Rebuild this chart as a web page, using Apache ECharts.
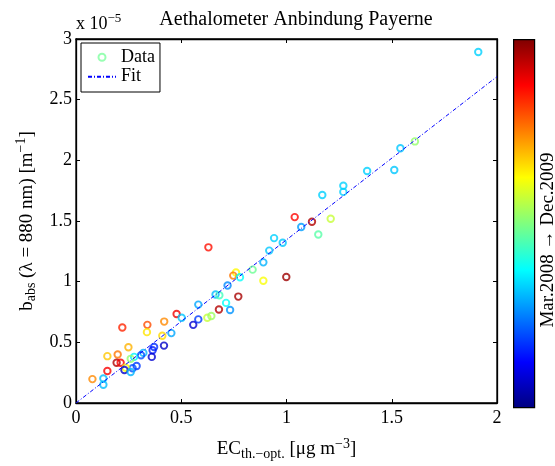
<!DOCTYPE html>
<html>
<head>
<meta charset="utf-8">
<script src="https://cdn.jsdelivr.net/npm/echarts@6/dist/echarts.min.js"></script>
<style>html,body{margin:0;padding:0;background:#fff;}#c{width:555px;height:466px;}</style>
</head>
<body>
<div id="c"></div>
<script>
// EC thermal-optical [ug m^-3]
const ecX = [1.911,1.610,1.541,1.383,1.512,1.270,1.270,1.170,1.039,1.121,1.210,1.070,1.151,0.629,0.941,0.982,0.918,0.890,0.839,0.890,0.999,0.760,0.747,0.779,0.720,0.663,0.681,0.771,0.713,0.679,0.732,0.581,0.478,0.502,0.624,0.643,0.581,0.557,0.220,0.339,0.337,0.419,0.453,0.410,0.418,0.371,0.364,0.360,0.320,0.309,0.249,0.198,0.149,0.276,0.260,0.193,0.212,0.288,0.269,0.236,0.230,0.260,0.149,0.078,0.130,0.130];
// b_abs (880 nm) in units of 1e-5 m^-1
const bAbs = [2.893,2.156,2.100,1.912,1.920,1.790,1.740,1.714,1.532,1.494,1.519,1.451,1.389,1.283,1.359,1.321,1.256,1.159,1.099,1.007,1.039,1.075,1.050,1.037,0.969,0.894,0.888,0.877,0.825,0.771,0.766,0.811,0.733,0.703,0.703,0.717,0.689,0.644,0.622,0.644,0.584,0.671,0.576,0.554,0.473,0.462,0.435,0.380,0.413,0.394,0.459,0.400,0.386,0.380,0.364,0.332,0.332,0.305,0.286,0.291,0.272,0.256,0.264,0.197,0.202,0.150];
// relative time (0 = Mar.2008, 1 = Dec.2009)
const timeVal = [0.33,0.52,0.32,0.33,0.32,0.33,0.33,0.33,0.87,0.95,0.57,0.28,0.46,0.86,0.33,0.32,0.32,0.30,0.48,0.62,0.97,0.63,0.76,0.38,0.26,0.31,0.44,0.96,0.38,0.95,0.27,0.29,0.89,0.32,0.57,0.53,0.18,0.08,0.84,0.80,0.65,0.74,0.29,0.66,0.07,0.17,0.15,0.08,0.30,0.20,0.70,0.76,0.68,0.36,0.52,0.95,0.88,0.18,0.20,0.62,0.07,0.30,0.88,0.74,0.31,0.31];
// linear fit through origin
const fitX = [0, 2];
const fitY = [0, 2.69];
const xTickLabels = ['0','0.5','1','1.5','2'];
const yTickLabels = ['0','0.5','1','1.5','2','2.5','3'];
const jetStops = ['#00007f','#0000ff','#007fff','#00ffff','#7fff7f','#ffff00','#ff7f00','#ff0000','#7f0000'];

function clamp(v){return Math.max(0,Math.min(1,v));}
function jet(v){
  const r = clamp(1.5 - Math.abs(4*v-3));
  const g = clamp(1.5 - Math.abs(4*v-2));
  const b = clamp(1.5 - Math.abs(4*v-1));
  return 'rgb(' + Math.round(r*255) + ',' + Math.round(g*255) + ',' + Math.round(b*255) + ')';
}

const FONT = 'Liberation Serif';
const chart = echarts.init(document.getElementById('c'), null, {renderer:'canvas'});

const scatterData = ecX.map((x,i)=>({
  value:[x,bAbs[i]],
  itemStyle:{borderColor:jet(timeVal[i]), borderWidth:1.9, color:'rgba(0,0,0,0)'}
}));

const axisCommon = {
  type:'value', min:0,
  axisLine:{show:true, onZero:false, lineStyle:{color:'#000', width:1.3}},
  axisTick:{show:true, inside:true, length:4, lineStyle:{color:'#000', width:1}},
  splitLine:{show:false}
};

const richLab = {
  n:{fontFamily:FONT, fontSize:19, color:'#000'},
  sub:{fontFamily:FONT, fontSize:14, color:'#000', padding:[10,0,0,0]},
  sup:{fontFamily:FONT, fontSize:14, color:'#000', padding:[0,0,10,0]}
};

// colorbar gradient built from the jet stops (bottom = start, top = end)
const cbStops = jetStops.map((c,i)=>({offset:1 - i/(jetStops.length-1), color:c}));

chart.setOption({
  backgroundColor:'#fff',
  animation:false,
  title:{
    text:'Aethalometer Anbindung Payerne',
    left:291, top:5, textAlign:'center',
    textStyle:{fontFamily:FONT, fontSize:20, fontWeight:'normal', color:'#000'}
  },
  grid:{left:76, top:39, width:421, height:368.5, show:true, borderColor:'#000', borderWidth:1.3, backgroundColor:'#fff'},
  legend:{
    left:81, top:43, orient:'vertical',
    data:[{name:'Data'},{name:'Fit', itemStyle:{opacity:0}}],
    itemWidth:28, itemHeight:7, itemGap:1,
    padding:[5,5,6,6],
    borderColor:'#000', borderWidth:1, backgroundColor:'#fff', borderRadius:0,
    textStyle:{fontFamily:FONT, fontSize:18, color:'#000', lineHeight:18.5}
  },
  xAxis:[
    Object.assign({}, axisCommon, {
      max:2, interval:0.5, position:'bottom',
      axisLabel:{show:true, margin:6, fontFamily:FONT, fontSize:18, color:'#000',
        formatter:(v)=>xTickLabels[Math.round(v/0.5)]},
      name:'{n|EC}{sub|th.−opt.}{n| [μg m}{sup|−3}{n|]}',
      nameLocation:'middle', nameGap:34,
      nameTextStyle:{fontFamily:FONT, color:'#000', rich:richLab}
    }),
    Object.assign({}, axisCommon, {
      max:2, interval:0.5, position:'top',
      axisLabel:{show:false}
    })
  ],
  yAxis:[
    Object.assign({}, axisCommon, {
      max:3, interval:0.5, position:'left',
      axisLabel:{show:true, margin:4, fontFamily:FONT, fontSize:18, color:'#000',
        formatter:(v)=>yTickLabels[Math.round(v/0.5)]},
      name:'{n|b}{sub|abs}{n| (λ = 880 nm) [m}{sup|−1}{n|]}',
      nameLocation:'middle', nameGap:36, nameRotate:90,
      nameTextStyle:{fontFamily:FONT, color:'#000', rich:richLab}
    }),
    Object.assign({}, axisCommon, {
      max:3, interval:0.5, position:'right',
      axisLabel:{show:false}
    })
  ],
  graphic:[
    {
      type:'rect', left:513, top:39, z:100, silent:true,
      shape:{width:21, height:368},
      style:{
        fill:new echarts.graphic.LinearGradient(0,0,0,1,cbStops),
        stroke:'#000', lineWidth:1.2
      }
    },
    {
      type:'text', left:76, top:12, silent:true,
      style:{
        text:'{a|x 10}{s|−5}',
        rich:{
          a:{fontFamily:FONT, fontSize:18, fill:'#000', color:'#000'},
          s:{fontFamily:FONT, fontSize:13, fill:'#000', color:'#000', padding:[0,0,11,0]}
        }
      }
    },
    {
      type:'text', x:548, y:240, rotation:Math.PI/2, silent:true,
      style:{
        text:'Mar.2008 → Dec.2009', fontFamily:FONT, fontSize:19, fill:'#000',
        align:'center', verticalAlign:'middle'
      }
    }
  ],
  series:[
    {
      name:'Data', type:'scatter', xAxisIndex:0, yAxisIndex:0,
      symbol:'circle', symbolSize:6.5,
      itemStyle:{color:'rgba(0,0,0,0)', borderColor:'#80ffa0', borderWidth:1.2},
      data:scatterData, z:2
    },
    {
      name:'Fit', type:'line', xAxisIndex:0, yAxisIndex:0,
      symbol:'none', silent:true,
      lineStyle:{color:'#0000ff', width:1, type:[4,2,1,2]},
      itemStyle:{color:'#0000ff'},
      data:fitX.map((x,i)=>[x,fitY[i]]), z:3
    }
  ]
});
</script>
</body>
</html>
